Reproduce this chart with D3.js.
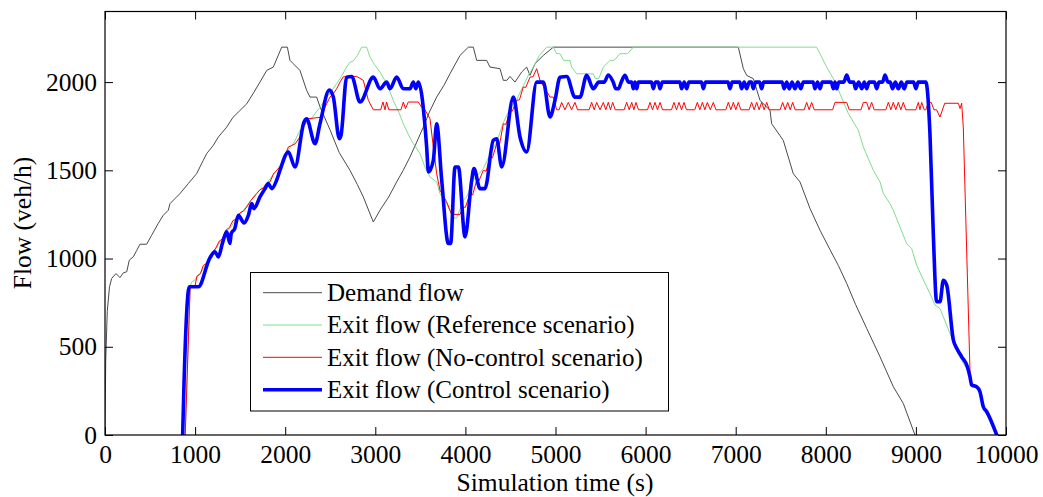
<!DOCTYPE html>
<html><head><meta charset="utf-8">
<script src="https://cdn.jsdelivr.net/npm/d3@7"></script>
<style>
body{margin:0;background:#fff}
svg{display:block}
text{font-family:"Liberation Serif","Times New Roman",serif;fill:#000}
</style>
</head><body>
<svg id="chart" width="1043" height="497"></svg>
<script>
// ---------------- DATA ----------------
const xTicks = [0,1000,2000,3000,4000,5000,6000,7000,8000,9000,10000];
const yTicks = [0,500,1000,1500,2000];
const seriesNames = ["Demand flow","Exit flow (Reference scenario)","Exit flow (No-control scenario)","Exit flow (Control scenario)"];

const demand = [[0,0],[8,420],[25,700],[50,840],[74,887],[122,915],[166,892],[203,919],[241,925],[270,991],[314,1010],[351,1045],[388,1081],[462,1081],[518,1132],[592,1200],[647,1245],[703,1274],[721,1311],[795,1349],[832,1368],[925,1425],[1017,1481],[1091,1557],[1129,1595],[1200,1640],[1260,1690],[1351,1745],[1420,1800],[1480,1830],[1573,1877],[1650,1940],[1720,2000],[1795,2066],[1868,2085],[1961,2198],[2024,2198],[2053,2123],[2090,2104],[2164,2066],[2238,1953],[2275,1915],[2349,1915],[2386,1860],[2497,1730],[2600,1600],[2719,1500],[2800,1420],[2867,1349],[2978,1207],[3052,1274],[3150,1350],[3237,1434],[3310,1500],[3385,1576],[3460,1660],[3533,1745],[3600,1830],[3681,1915],[3760,1980],[3829,2047],[3940,2151],[4033,2198],[4088,2198],[4125,2123],[4236,2123],[4273,2085],[4384,2076],[4421,2010],[4460,2010],[4495,2032],[4550,2000],[4625,2057],[4680,2085],[4717,2038],[4772,2104],[4865,2151],[4976,2198],[7029,2198],[7085,2076],[7122,2038],[7196,2019],[7270,1896],[7381,1840],[7399,1764],[7528,1670],[7639,1481],[7714,1434],[7825,1283],[7936,1160],[8047,1050],[8140,960],[8232,859],[8330,740],[8454,604],[8602,443],[8749,274],[8860,179],[8990,0]];

const reference = [[890,0],[945,840],[960,865],[1000,880],[1054,915],[1100,950],[1160,1000],[1200,1030],[1250,1070],[1300,1110],[1350,1150],[1400,1180],[1450,1220],[1500,1250],[1560,1290],[1620,1330],[1680,1370],[1740,1400],[1800,1430],[1860,1470],[1920,1510],[1980,1560],[2040,1620],[2100,1660],[2164,1727],[2220,1760],[2275,1783],[2330,1820],[2386,1858],[2440,1900],[2500,1940],[2571,1991],[2620,2030],[2682,2085],[2719,2113],[2756,2120],[2800,2150],[2849,2198],[2904,2198],[2941,2142],[2990,2100],[3052,2057],[3126,1991],[3200,1896],[3260,1830],[3311,1764],[3370,1700],[3422,1651],[3496,1595],[3550,1520],[3607,1462],[3681,1434],[3718,1368],[3792,1311],[3866,1230],[3903,1230],[3977,1330],[4014,1349],[4088,1444],[4150,1480],[4199,1510],[4273,1590],[4347,1660],[4421,1770],[4495,1850],[4569,1900],[4643,1980],[4700,2040],[4754,2085],[4820,2150],[4902,2198],[4976,2198],[5013,2161],[5050,2161],[5090,2123],[5161,2123],[5179,2085],[5235,2047],[5420,2047],[5440,2020],[5480,2020],[5531,2085],[5605,2123],[5650,2123],[5716,2161],[5800,2161],[5864,2198],[7898,2198],[7954,2142],[8010,2085],[8084,2019],[8158,1934],[8251,1821],[8361,1727],[8417,1632],[8528,1500],[8602,1434],[8639,1368],[8712,1311],[8749,1274],[8823,1179],[8897,1085],[8953,1057],[9008,962],[9100,860],[9156,802],[9212,736],[9267,717],[9378,576],[9450,480],[9526,406],[9600,349],[9619,283],[9674,274],[9711,245],[9748,160],[9786,132],[9897,0]];

const noControl = [[890,0],[945,840],[1000,845],[1020,900],[1060,915],[1090,960],[1130,975],[1160,1010],[1200,1040],[1230,1060],[1270,1100],[1300,1110],[1340,1160],[1380,1175],[1420,1215],[1460,1225],[1500,1260],[1540,1270],[1573,1292],[1620,1330],[1684,1368],[1720,1390],[1760,1400],[1800,1430],[1831,1434],[1870,1480],[1942,1519],[1980,1560],[2035,1632],[2070,1640],[2110,1650],[2164,1689],[2201,1745],[2250,1792],[2386,1800],[2420,1830],[2442,1858],[2497,1915],[2534,1934],[2571,1962],[2608,2000],[2645,2030],[2793,2032],[2867,2010],[2923,1896],[2978,1843],[3060,1843],[3085,1887],[3108,1843],[3125,1887],[3150,1843],[3285,1843],[3311,1887],[3335,1850],[3366,1887],[3477,1887],[3514,1858],[3551,1843],[3607,1792],[3640,1650],[3681,1481],[3718,1387],[3792,1321],[3847,1250],[3940,1250],[3977,1292],[4000,1290],[4051,1368],[4080,1360],[4125,1444],[4150,1440],[4199,1500],[4230,1495],[4273,1576],[4300,1570],[4347,1651],[4380,1650],[4421,1764],[4450,1760],[4495,1840],[4520,1835],[4569,1896],[4600,1900],[4643,1972],[4670,1970],[4717,2028],[4750,2030],[4791,2076],[4828,2010],[4883,1962],[4939,1915],[4976,1915],[5013,1843],[5040,1843],[5068,1885],[5105,1843],[5142,1885],[5179,1843],[5216,1885],[5245,1843],[5373,1843],[5401,1885],[5429,1843],[5457,1885],[5494,1843],[5531,1885],[5558,1843],[5586,1885],[5610,1843],[5635,1885],[5663,1843],[5762,1843],[5790,1885],[5818,1843],[5846,1885],[5870,1843],[5893,1885],[5921,1843],[6021,1843],[6049,1885],[6077,1843],[6104,1885],[6132,1843],[6160,1885],[6188,1843],[6287,1843],[6315,1885],[6343,1843],[6371,1885],[6399,1843],[6426,1885],[6454,1843],[6546,1843],[6574,1885],[6602,1843],[6630,1885],[6658,1843],[6685,1885],[6718,1843],[6752,1885],[6780,1843],[6890,1843],[6918,1885],[6946,1843],[6974,1885],[7001,1843],[7029,1885],[7057,1843],[7149,1843],[7177,1885],[7205,1843],[7233,1885],[7260,1843],[7288,1885],[7316,1843],[7344,1885],[7372,1843],[7493,1843],[7521,1885],[7549,1843],[7577,1885],[7605,1843],[7632,1885],[7660,1843],[7760,1843],[7788,1885],[7815,1843],[7843,1885],[7871,1843],[8075,1843],[8102,1885],[8232,1885],[8260,1843],[8390,1843],[8417,1885],[8454,1885],[8480,1843],[8509,1885],[8537,1843],[8666,1843],[8694,1885],[8722,1843],[8749,1885],[8777,1843],[8805,1885],[8833,1843],[8860,1885],[8888,1843],[8999,1843],[9027,1885],[9045,1843],[9064,1885],[9092,1843],[9110,1843],[9138,1885],[9170,1885],[9200,1843],[9230,1843],[9267,1802],[9320,1880],[9471,1880],[9490,1850],[9508,1880],[9526,1745],[9600,368],[9619,283],[9674,274],[9711,245],[9748,160],[9786,132],[9897,0]];

const control = [[862,0],[877,292],[936,840],[1036,840],[1165,1005],[1221,1038],[1258,1009],[1300,1080],[1351,1151],[1387,1085],[1400,1140],[1440,1170],[1480,1245],[1543,1202],[1591,1245],[1628,1311],[1654,1283],[1720,1349],[1776,1396],[1813,1425],[1850,1396],[1905,1444],[1942,1500],[2035,1604],[2109,1519],[2209,1774],[2238,1792],[2331,1651],[2386,1764],[2490,1955],[2534,1915],[2601,1679],[2620,1700],[2682,2028],[2738,2032],[2830,1887],[2978,2028],[3052,1962],[3126,2000],[3163,1962],[3237,2028],[3311,1962],[3385,1962],[3422,2000],[3450,1962],[3477,2000],[3570,1632],[3589,1491],[3644,1557],[3681,1764],[3737,1444],[3811,1085],[3836,1085],[3885,1519],[3922,1519],[3996,1123],[4070,1444],[4095,1510],[4162,1396],[4217,1396],[4310,1670],[4347,1679],[4403,1519],[4532,1915],[4606,1689],[4680,1604],[4791,2000],[4865,2000],[4939,1802],[4994,1896],[5050,2028],[5124,2032],[5216,1915],[5272,1915],[5346,2038],[5420,1962],[5480,2000],[5540,2000],[5586,2040],[5640,2000],[5670,1962],[5698,1962],[5730,2000],[5771,2038],[5810,2000],[5845,2000],[5864,1962],[5882,2000],[5901,1962],[5920,2000],[6065,2000],[6086,1962],[6110,2000],[6140,2000],[6160,1962],[6185,2000],[6380,2000],[6400,1962],[6428,2000],[6456,1962],[6480,2000],[6620,2000],[6641,1962],[6665,2000],[6915,2000],[6937,1962],[6960,2000],[7045,2000],[7066,1962],[7094,2000],[7122,1962],[7150,2000],[7175,2000],[7196,1962],[7220,2000],[7265,2000],[7288,1962],[7310,2000],[7515,2000],[7538,1962],[7566,2000],[7594,1962],[7625,2000],[7658,1962],[7690,2000],[7723,1962],[7750,2000],[7860,2000],[7880,1962],[7908,2000],[7936,1962],[7960,2000],[8060,2000],[8084,1962],[8102,2000],[8121,1962],[8145,2000],[8200,2000],[8232,2040],[8265,2000],[8310,2000],[8330,1962],[8365,2000],[8400,1962],[8427,2000],[8454,1962],[8480,2000],[8540,2000],[8565,1962],[8590,2000],[8630,2000],[8657,2040],[8690,2000],[8715,2000],[8740,1962],[8772,2000],[8805,1962],[8838,2000],[8870,1962],[8900,2000],[8975,2000],[9000,1962],[9025,2000],[9110,2000],[9156,1708],[9193,1142],[9230,755],[9267,755],[9305,877],[9342,849],[9416,538],[9453,491],[9508,443],[9571,387],[9600,330],[9619,283],[9674,274],[9711,245],[9748,160],[9786,132],[9897,0]];

// ---------------- CHART ----------------
const svg = d3.select("#chart");
svg.append("rect").attr("width",1043).attr("height",497).attr("fill","#fff");

const x = d3.scaleLinear().domain([0,10000]).range([105,1006]);
const y = d3.scaleLinear().domain([0,2400]).range([435,11.5]);

const styles = [
  {data:demand,   color:"#4a4a4a", width:1,   curve:d3.curveLinear},
  {data:reference,color:"#80dc90", width:1,   curve:d3.curveLinear},
  {data:noControl,color:"#ff0000", width:1,   curve:d3.curveLinear},
  {data:control,  color:"#0000ff", width:3.6, curve:d3.curveMonotoneX}
];

svg.append("clipPath").attr("id","clip").append("rect")
  .attr("x",105).attr("y",11.5).attr("width",901).attr("height",423.5);

const g = svg.append("g").attr("clip-path","url(#clip)");
styles.forEach(s=>{
  const line = d3.line().x(d=>x(d[0])).y(d=>y(d[1])).curve(s.curve);
  g.append("path").datum(s.data).attr("d",line)
    .attr("fill","none").attr("stroke",s.color).attr("stroke-width",s.width)
    .attr("stroke-linejoin","round").attr("stroke-linecap","round");
});

// axes
const fs = 25.5;
const axB = svg.append("g").attr("transform","translate(0,435)")
  .call(d3.axisBottom(x).tickValues(xTicks).tickSizeInner(-8).tickSizeOuter(0).tickPadding(9.5).tickFormat(d3.format("d")));
const axL = svg.append("g").attr("transform","translate(105,0)")
  .call(d3.axisLeft(y).tickValues(yTicks).tickSizeInner(-8).tickSizeOuter(0).tickPadding(8).tickFormat(d3.format("d")));
const axT = svg.append("g").attr("transform","translate(0,11.5)")
  .call(d3.axisTop(x).tickValues(xTicks).tickSizeInner(-8).tickSizeOuter(0).tickFormat(""));
const axR = svg.append("g").attr("transform","translate(1006,0)")
  .call(d3.axisRight(y).tickValues(yTicks).tickSizeInner(-8).tickSizeOuter(0).tickFormat(""));
[axB,axL,axT,axR].forEach(a=>{
  a.select(".domain").remove();
  a.selectAll("line").attr("stroke","#000").attr("stroke-width",1);
  a.selectAll("text").attr("font-family","Liberation Serif, Times New Roman, serif").attr("font-size",fs).attr("fill","#000");
});
svg.append("rect").attr("x",105).attr("y",11.5).attr("width",901).attr("height",423.5)
  .attr("fill","none").attr("stroke","#000").attr("stroke-width",1.2);

// axis titles
svg.append("text").attr("x",555).attr("y",491).attr("text-anchor","middle")
  .attr("font-size",25.5).text("Simulation time (s)");
svg.append("text").attr("transform","translate(31,223) rotate(-90)").attr("text-anchor","middle")
  .attr("font-size",fs).text("Flow (veh/h)");

// legend
const lg = svg.append("g");
lg.append("rect").attr("x",250.5).attr("y",272.5).attr("width",418).attr("height",138.5)
  .attr("fill","#fff").attr("stroke","#000").attr("stroke-width",1);
const rowY = [292.7,325,357.3,389.7];
styles.forEach((s,i)=>{
  lg.append("line").attr("x1",263).attr("x2",322).attr("y1",rowY[i]).attr("y2",rowY[i])
    .attr("stroke",s.color).attr("stroke-width",s.width);
  lg.append("text").attr("x",327).attr("y",rowY[i]).attr("dy","0.33em")
    .attr("font-size",25).text(seriesNames[i]);
});
</script>
</body></html>
